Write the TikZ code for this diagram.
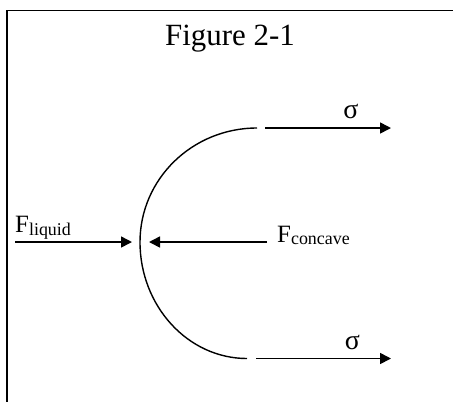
\documentclass[tikz,border=0pt]{standalone}
\usepackage{fontspec}
\setmainfont{Liberation Serif}
\usetikzlibrary{arrows.meta}
\begin{document}
\begin{tikzpicture}[x=1bp,y=-1bp,
  force/.style={line width=1.6bp,-{Triangle[length=11bp,width=11bp]}},
  frame/.style={line width=1.5bp},
  surface/.style={line width=1.4bp},
  lbl/.style={inner sep=0pt,font=\fontsize{25}{30}\selectfont},
  greek/.style={inner sep=0pt,font=\fontsize{28}{32}\selectfont},
  title/.style={inner sep=0pt,anchor=base,font=\fontsize{31}{36}\selectfont}]
\fill[white] (0,0) rectangle (453,402);
\useasboundingbox (0,0) rectangle (453,402);
% frame
\draw[frame] (6,10.5) -- (453,10.5);
\draw[frame,line width=2.2bp] (7,10) -- (7,402);
% title
\node[title] (fig) at (230,45) {Figure 2-1};
% surface
\coordinate (top) at (257,128);
\coordinate (left) at (140,242);
\coordinate (bot) at (247,358.5);
\draw[surface] (top) .. controls (192.4,128) and (140,179) .. (left)
  .. controls (140,306) and (187.9,358.5) .. (bot);
% sigma arrows
\coordinate (ts) at (265,128);
\coordinate (te) at (391,128);
\coordinate (bs) at (256,358.5);
\coordinate (be) at (391,358.5);
\draw[force] (ts) -- (te);
\draw[force] (bs) -- (be);
\node[greek] (sig1) at (351,111) {σ};
\node[greek] (sig2) at (352.5,342) {σ};
% horizontal forces
\coordinate (ls) at (15,242);
\coordinate (lt) at (132,242);
\coordinate (rs) at (267,242);
\coordinate (rt) at (149,242);
\draw[force] (ls) -- (lt);
\draw[force] (rs) -- (rt);
\node[lbl,anchor=base west] (fliq) at (15,232.5) {F\raisebox{-2.5bp}{\fontsize{18}{20}\selectfont liquid}};
\node[lbl,anchor=base west] (fconc) at (277,242) {F\raisebox{-2.5bp}{\fontsize{18}{20}\selectfont concave}};
\end{tikzpicture}
\end{document}
